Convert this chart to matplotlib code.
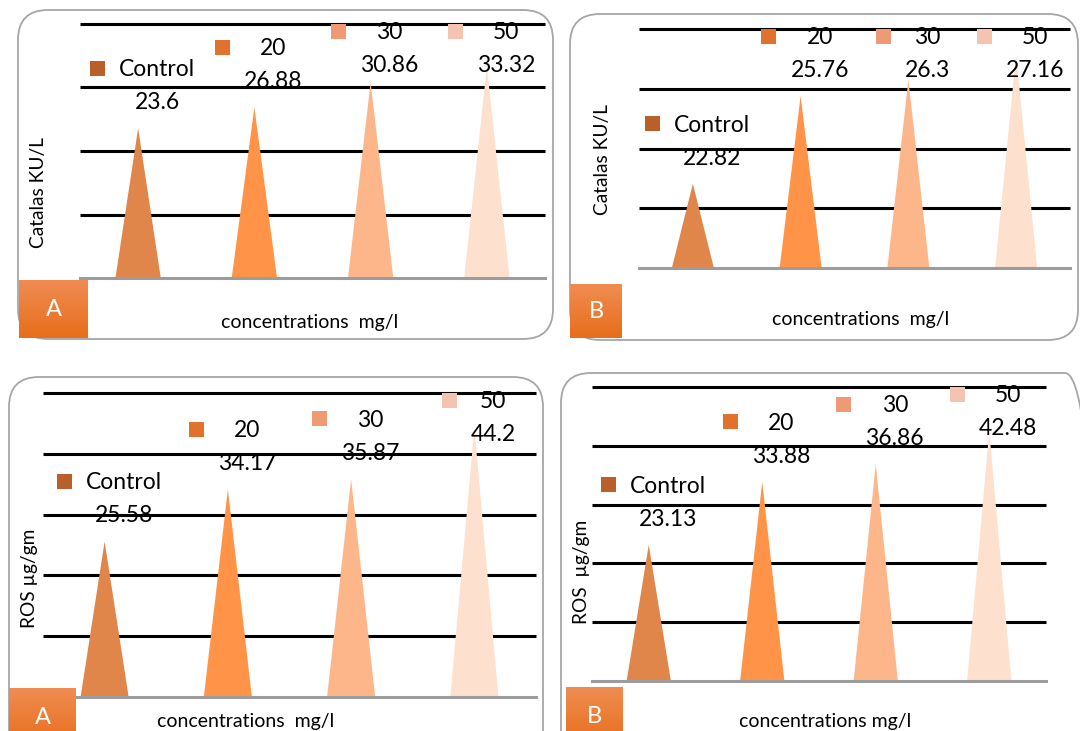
import numpy as np
import matplotlib
matplotlib.use("Agg")
import matplotlib.pyplot as plt
from matplotlib.patches import FancyBboxPatch, Polygon, Rectangle
from matplotlib.transforms import IdentityTransform

plt.rcParams['font.family'] = ['Lato', 'DejaVu Sans']

# ---------------- data ----------------
series_names = ["Control", "20", "30", "50"]
catalase_A = [23.6, 26.88, 30.86, 33.32]
catalase_B = [22.82, 25.76, 26.3, 27.16]
ros_A = [25.58, 34.17, 35.87, 44.2]
ros_B = [23.13, 33.88, 36.86, 42.48]

ylabel_catalase = "Catalas KU/L"
ylabel_ros_A = "ROS µg/gm"
ylabel_ros_B = "ROS  µg/gm"
xlabel_wide = "concentrations  mg/l"
xlabel_narrow = "concentrations mg/l"

# ---------------- styles ----------------
tri_colors = ["#E0864A", "#FF9448", "#FDB68A", "#FDE0CD"]
key_colors = ["#B9602A", "#E0722E", "#EE9B75", "#F4C4B0"]

W, H = 1080, 731

panels = [
    dict(values=catalase_A, ylim=(0, 40), step=10, box=(18, 10, 553, 339),
         ax=(80, 24, 545, 278), ylabel=ylabel_catalase, ylabel_xy=(39, 193),
         xlabel=xlabel_wide, xlabel_xy=(310, 322), badge=(19, 280, 88, 338), letter="A"),
    dict(values=catalase_B, ylim=(20, 28), step=2, box=(570, 14, 1078, 340),
         ax=(639, 29, 1070, 268), ylabel=ylabel_catalase, ylabel_xy=(602, 160),
         xlabel=xlabel_wide, xlabel_xy=(861, 320), badge=(570, 284, 622, 338), letter="B"),
    dict(values=ros_A, ylim=(0, 50), step=10, box=(9, 377, 543, 780),
         ax=(43, 393, 536, 697), ylabel=ylabel_ros_A, ylabel_xy=(30, 578),
         xlabel=xlabel_wide, xlabel_xy=(246, 722), badge=(9, 688, 76, 746), letter="A"),
    dict(values=ros_B, ylim=(0, 50), step=10, box=(561, 373, 1095, 780),
         ax=(592, 387, 1046, 681), ylabel=ylabel_ros_B, ylabel_xy=(581, 572),
         xlabel=xlabel_narrow, xlabel_xy=(825, 722), badge=(566, 687, 623, 746), letter="B"),
]


def frac(x0, y0, x1, y1):
    return [x0 / W, 1 - y1 / H, (x1 - x0) / W, (y1 - y0) / H]


def hex2rgb(h):
    h = h.lstrip('#')
    return np.array([int(h[i:i + 2], 16) / 255 for i in (0, 2, 4)])


fig = plt.figure(figsize=(W / 100, H / 100), dpi=100)
fig.patch.set_facecolor("white")

label_pairs = []

for p in panels:
    x0, y0, x1, y1 = p["box"]
    box = FancyBboxPatch((x0, H - y1), x1 - x0, y1 - y0,
                         boxstyle="round,pad=0,rounding_size=30",
                         transform=IdentityTransform(), fc="none",
                         ec="#A6A6A6", lw=1.3, zorder=0)
    fig.add_artist(box)

    ax = fig.add_axes(frac(*p["ax"]))
    ax.set_facecolor("none")
    ymin, ymax = p["ylim"]
    ax.set_xlim(-0.5, 3.5)
    ax.set_ylim(ymin, ymax)
    ticks = np.arange(ymin + p["step"], ymax + p["step"] / 2, p["step"])
    ax.set_yticks(ticks)
    ax.set_xticks([])
    ax.tick_params(left=False, labelleft=False)
    for s in ["top", "right", "left"]:
        ax.spines[s].set_visible(False)
    ax.spines["bottom"].set_color("#9C9C9C")
    ax.spines["bottom"].set_linewidth(2.2)
    ax.hlines(ticks, -0.5, 3.5, colors="black", lw=2.2, zorder=1, clip_on=False)

    ax_h_px = p["ax"][3] - p["ax"][1]
    ppu = ax_h_px / (ymax - ymin)
    w = 0.39
    for i, v in enumerate(p["values"]):
        tri = Polygon([(i - w / 2, ymin), (i, v), (i + w / 2, ymin)], closed=True,
                      fc=tri_colors[i], ec="none", zorder=2)
        ax.add_patch(tri)
        ly = min(v + 27 / ppu, ymax - 40 / ppu)
        vt = ax.annotate(str(v), xy=(i, ly), xytext=(19, -8), textcoords="offset pixels",
                         ha="center", va="baseline", fontsize=16.5, color="black",
                         annotation_clip=False, zorder=4)
        nt = ax.annotate(series_names[i], xy=(i, ly), xytext=(19, 25), textcoords="offset pixels",
                         ha="center", va="baseline", fontsize=16.5, color="black",
                         annotation_clip=False, zorder=4)
        label_pairs.append((ax, nt, vt, key_colors[i], (i, ly)))

    lx, lyy = p["ylabel_xy"]
    fig.text(lx / W, 1 - lyy / H, p["ylabel"], rotation=90, ha="center", va="center",
             fontsize=13.8, color="black")
    xx, xy = p["xlabel_xy"]
    fig.text(xx / W, 1 - xy / H, p["xlabel"], ha="center", va="center",
             fontsize=14, color="black")

    bx0, by0, bx1, by1 = p["badge"]
    bax = fig.add_axes(frac(bx0, by0, bx1, by1))
    top_c, bot_c = hex2rgb("#F08C52"), hex2rgb("#E76E1B")
    t = np.linspace(0, 1, 64)[:, None, None]
    grad = top_c[None, None, :] * (1 - t) + bot_c[None, None, :] * t
    bax.imshow(grad, aspect="auto", extent=[0, 1, 0, 1], origin="upper")
    bax.set_axis_off()
    bax.text(0.5, 0.5, p["letter"], transform=bax.transAxes, ha="center", va="center",
             color="white", fontsize=17)

fig.canvas.draw()
renderer = fig.canvas.get_renderer()
for ax, nt, vt, kc, anchor in label_pairs:
    b1 = nt.get_window_extent(renderer)
    b2 = vt.get_window_extent(renderer)
    left = min(b1.x0, b2.x0)
    ax_, ay_ = ax.transData.transform(anchor)
    cyk = ay_ + 33
    rect = Rectangle((left - 29, cyk - 7.5), 15, 15, transform=IdentityTransform(),
                     fc=kc, ec="none", zorder=5)
    fig.add_artist(rect)

fig.savefig("out.png", dpi=100)
